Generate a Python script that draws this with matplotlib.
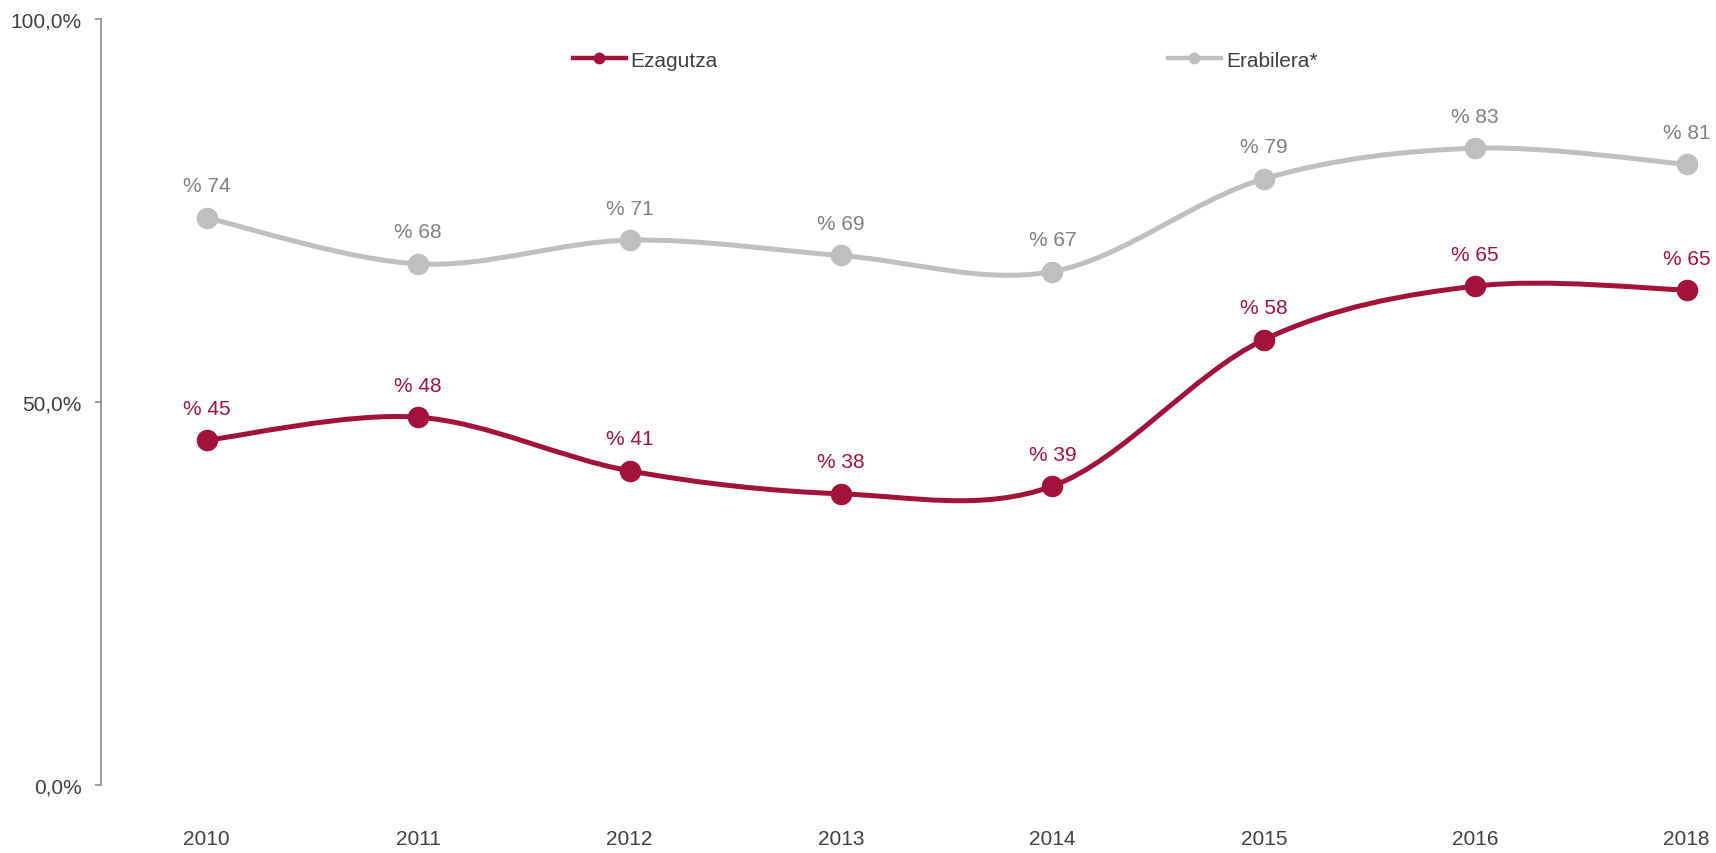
import matplotlib
matplotlib.use("Agg")
import matplotlib.pyplot as plt
from matplotlib.path import Path
from matplotlib.patches import PathPatch
from matplotlib.lines import Line2D
from matplotlib.ticker import FixedLocator, FuncFormatter
import numpy as np

years = ["2010", "2011", "2012", "2013", "2014", "2015", "2016", "2018"]
ezagutza = [45.0, 48.0, 41.0, 38.0, 39.0, 58.1, 65.1, 64.6]
erabilera = [74.0, 68.0, 71.1, 69.1, 67.0, 79.1, 83.1, 81.0]
series_names = ["Ezagutza", "Erabilera*"]

RED = "#A3123A"
GREY = "#BFBFBF"
GREY_TXT = "#808080"
AXIS_TXT = "#404040"
FS = 15

plt.rcParams["font.family"] = ["Liberation Sans", "DejaVu Sans"]

fig = plt.figure(figsize=(17.16, 8.54), dpi=100)
ax = fig.add_axes([101 / 1716, 1 - 786 / 854, 1 - 101 / 1716, (786 - 19.7) / 854])


def smooth_path(xs, ys):
    """Bezier path through the points, with Catmull-Rom style control points."""
    pts = np.column_stack([xs, ys]).astype(float)
    n = len(pts)
    verts = [pts[0]]
    codes = [Path.MOVETO]
    for i in range(n - 1):
        p0 = pts[i - 1] if i > 0 else pts[i]
        p1 = pts[i]
        p2 = pts[i + 1]
        p3 = pts[i + 2] if i + 2 < n else pts[i + 1]
        c1 = p1 + (p2 - p0) / 6.0
        c2 = p2 - (p3 - p1) / 6.0
        verts += [c1, c2, p2]
        codes += [Path.CURVE4] * 3
    return Path(verts, codes)


x = np.arange(len(years))
for vals, color, txtcolor in [(erabilera, GREY, GREY_TXT), (ezagutza, RED, RED)]:
    patch = PathPatch(smooth_path(x, vals), facecolor="none", edgecolor=color,
                      lw=3.6, capstyle="round", joinstyle="round",
                      transform=ax.transData, zorder=2)
    ax.add_patch(patch)
    ax.plot(x, vals, linestyle="none", marker="o", markersize=14.5,
            color=color, zorder=3, clip_on=False)
    for xi, v in zip(x, vals):
        ax.annotate(f"% {v:.0f}", (xi, v), xytext=(0, 23), textcoords="offset points",
                    ha="center", va="center", fontsize=FS, color=txtcolor,
                    annotation_clip=False)

ax.set_xlim(-0.5, (1716 - 206.8) / 211.4)
ax.set_ylim(0, 100)

ax.yaxis.set_major_locator(FixedLocator([0, 50, 100]))
ax.yaxis.set_major_formatter(FuncFormatter(lambda v, _: f"{v:.1f}%".replace(".", ",")))
ax.set_xticks(x)
ax.set_xticklabels(years)

for side in ["top", "right", "bottom"]:
    ax.spines[side].set_visible(False)
ax.spines["left"].set_color("#8C8C8C")
ax.spines["left"].set_linewidth(1.2)

ax.tick_params(axis="y", direction="out", length=4.3, width=1.2, color="#8C8C8C",
               labelsize=FS, labelcolor=AXIS_TXT, pad=9.4)
ax.tick_params(axis="x", length=0, labelsize=FS, labelcolor=AXIS_TXT, pad=32)

handles = [
    Line2D([], [], color=RED, lw=3.2, marker="o", markersize=7.5),
    Line2D([], [], color=GREY, lw=3.2, marker="o", markersize=7.5),
]
leg = ax.legend(handles, series_names, loc="center left", ncol=2, frameon=False,
                bbox_to_anchor=((572.7 - 101) / (1716 - 101), (786 - 61) / (786 - 19.7)),
                fontsize=FS, handlelength=2.55, handletextpad=0.23,
                columnspacing=21.6, borderpad=0, borderaxespad=0)
for t in leg.get_texts():
    t.set_color(AXIS_TXT)

fig.savefig("out.png", dpi=100, facecolor="white")
